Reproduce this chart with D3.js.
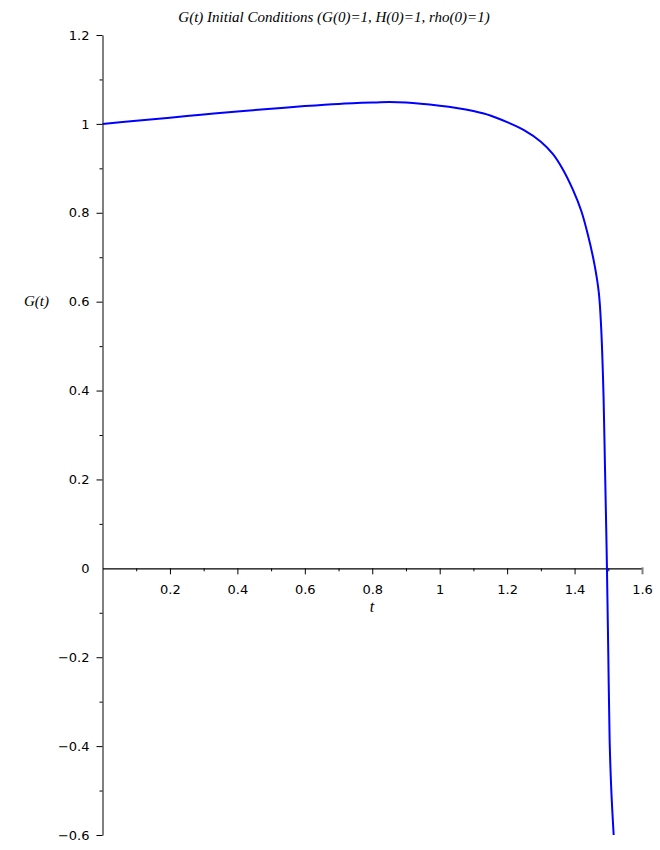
<!DOCTYPE html>
<html>
<head>
<meta charset="utf-8">
<script src="https://cdn.jsdelivr.net/npm/d3@7"></script>
<style>
  body { margin: 0; background: #fff; }
  .lbl { font-family: "Liberation Serif", "Times New Roman", serif; font-style: italic; fill: #000; }
</style>
</head>
<body>
<div id="chart"></div>
<script>
// values
const tValues = [0, 0.1, 0.2, 0.3, 0.4, 0.5, 0.6, 0.7, 0.8, 0.85, 0.9, 1.0, 1.05, 1.1, 1.15, 1.2, 1.25, 1.3,
  1.336, 1.365, 1.395, 1.42, 1.439, 1.459, 1.472, 1.479, 1.486, 1.49, 1.494, 1.496, 1.5, 1.504, 1.509, 1.516];
const gValues = [1.0, 1.007, 1.014, 1.021, 1.028, 1.034, 1.040, 1.045, 1.048, 1.049, 1.048, 1.041, 1.036, 1.029, 1.019, 1.004, 0.986, 0.960,
  0.932, 0.898, 0.852, 0.804, 0.752, 0.684, 0.620, 0.540, 0.386, 0.236, 0.086, 0.003, -0.19, -0.387, -0.5, -0.6];

const xMajor = [0.2, 0.4, 0.6, 0.8, 1, 1.2, 1.4, 1.6];
const xMinor = [0.1, 0.3, 0.5, 0.7, 0.9, 1.1, 1.3, 1.5];
const yMajor = [-0.6, -0.4, -0.2, 0, 0.2, 0.4, 0.6, 0.8, 1, 1.2];
const yMinor = [-0.5, -0.3, -0.1, 0.1, 0.3, 0.5, 0.7, 0.9, 1.1];

const title = "G(t) Initial Conditions (G(0)=1, H(0)=1, rho(0)=1)";

const width = 660, height = 850;
const svg = d3.select("#chart").append("svg")
  .attr("width", width)
  .attr("height", height);

const x = d3.scaleLinear().domain([0, 1.6]).range([102.5, 642]);
const y = d3.scaleLinear().domain([-0.6, 1.2]).range([835, 35]);

const fmt = d3.format("~g");

// y axis (gray line, ticks to the left)
const yAxis = svg.append("g")
  .attr("transform", `translate(${x(0)},0)`)
  .call(d3.axisLeft(y).tickValues(yMajor).tickSize(6).tickSizeOuter(0).tickPadding(7).tickFormat(fmt))
  .attr("font-size", 13)
  .attr("font-family", "DejaVu Sans, sans-serif");
yAxis.select(".domain").attr("stroke", "#808080").attr("stroke-width", 2);
yAxis.selectAll(".tick").filter(d => d === 0).select("line").remove();

const yAxisMinor = svg.append("g")
  .attr("transform", `translate(${x(0)},0)`)
  .call(d3.axisLeft(y).tickValues(yMinor).tickSize(3).tickFormat(""));
yAxisMinor.select(".domain").remove();

// x axis at G = 0
const xAxis = svg.append("g")
  .attr("transform", `translate(0,${y(0)})`)
  .call(d3.axisBottom(x).tickValues(xMajor).tickSize(6).tickSizeOuter(0).tickPadding(10).tickFormat(fmt))
  .attr("font-size", 13)
  .attr("font-family", "DejaVu Sans, sans-serif");
xAxis.select(".domain").attr("stroke", "#000").attr("stroke-width", 1.2);
xAxis.selectAll(".tick").filter(d => d === 1.6).select("line")
  .attr("stroke", "#808080").attr("stroke-width", 2).attr("y1", -1);

const xAxisMinor = svg.append("g")
  .attr("transform", `translate(0,${y(0)})`)
  .call(d3.axisBottom(x).tickValues(xMinor).tickSize(3).tickFormat(""));
xAxisMinor.select(".domain").remove();

// curve
const pts = tValues.map((t, i) => [t, gValues[i]]);
svg.append("path")
  .datum(pts)
  .attr("fill", "none")
  .attr("stroke", "#0000ff")
  .attr("stroke-width", 2)
  .attr("d", d3.line().x(d => x(d[0])).y(d => y(d[1])).curve(d3.curveCatmullRom.alpha(0.5)));

// labels
svg.append("text").attr("class", "lbl")
  .attr("x", 334).attr("y", 22)
  .attr("text-anchor", "middle")
  .style("font-size", "15px")
  .text(title);

svg.append("text").attr("class", "lbl")
  .attr("x", 372).attr("y", 612)
  .attr("text-anchor", "middle")
  .style("font-size", "16px")
  .text("t");

svg.append("text").attr("class", "lbl")
  .attr("x", 24).attr("y", 306)
  .style("font-size", "15px")
  .text("G(t)");
</script>
</body>
</html>
